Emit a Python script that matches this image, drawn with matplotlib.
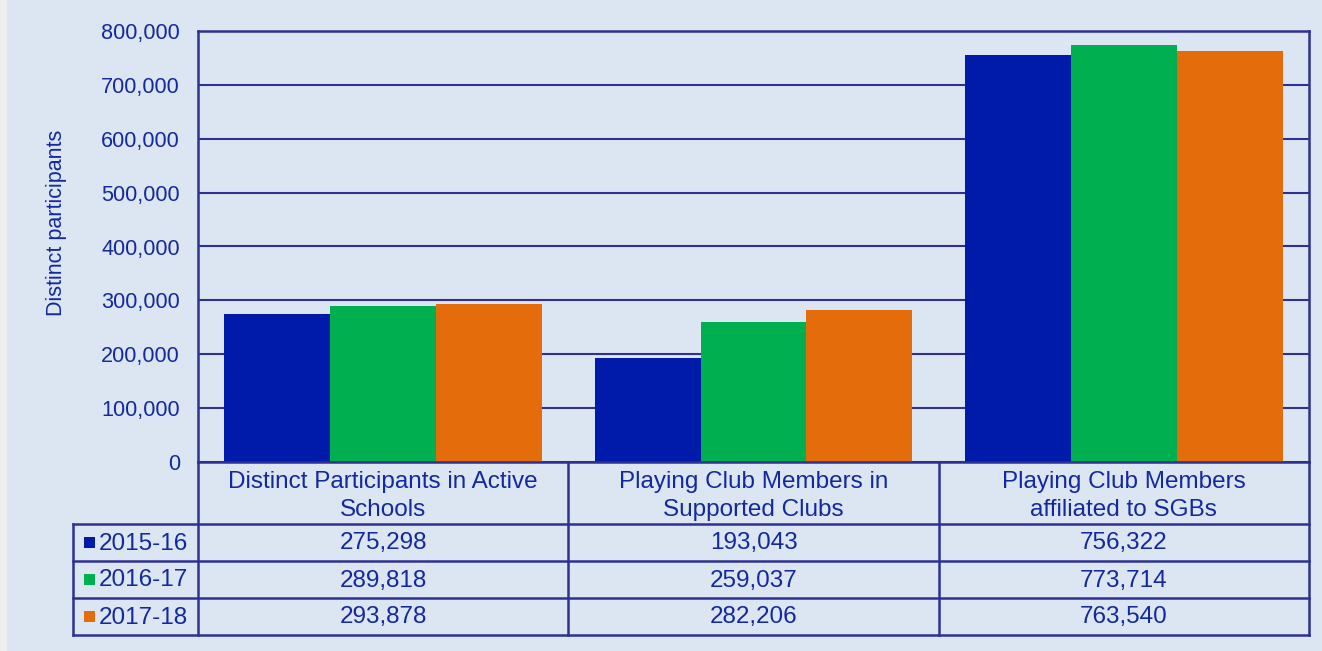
import matplotlib
matplotlib.use("Agg")
import matplotlib.pyplot as plt
import matplotlib.transforms as mtransforms
from matplotlib.patches import Rectangle
import numpy as np

plt.rcParams['font.family'] = ['Liberation Sans', 'DejaVu Sans']

categories = ["Distinct Participants in Active\nSchools",
              "Playing Club Members in\nSupported Clubs",
              "Playing Club Members\naffiliated to SGBs"]
seasons = ["2015-16", "2016-17", "2017-18"]
values = {
    "2015-16": [275298, 193043, 756322],
    "2016-17": [289818, 259037, 773714],
    "2017-18": [293878, 282206, 763540],
}
yticks = [0, 100000, 200000, 300000, 400000, 500000, 600000, 700000, 800000]

bar_colors = ["#001aaa", "#00b050", "#e46c0a"]
bg = "#dce6f2"
ink = "#1428a0"
rule = "#2e3192"

W, H = 1322, 651
fig = plt.figure(figsize=(W / 100, H / 100), dpi=100, facecolor=bg)
fig.patches.append(Rectangle((0, 0), 7 / W, 1, transform=fig.transFigure,
                             facecolor="#eeeeee", edgecolor="none", zorder=0))

# plot area in pixels
L, R, T, B = 198, 1309, 31, 462
ax = fig.add_axes([L / W, 1 - B / H, (R - L) / W, (B - T) / H])
ax.set_facecolor(bg)

x = np.arange(len(categories))
bw = 0.286
for j, s in enumerate(seasons):
    ax.bar(x + (j - 1) * bw, values[s], width=bw, color=bar_colors[j],
           zorder=3, linewidth=0)

ax.set_xlim(-0.5, len(categories) - 0.5)
ax.set_ylim(0, 800000)
ax.set_yticks(yticks)
ax.set_yticklabels([f"{v:,}" for v in yticks], fontsize=15.6, color=ink)
ax.tick_params(axis="y", length=0, pad=13)
ax.set_xticks([])
ax.yaxis.grid(True, color=rule, linewidth=1.5, zorder=1)
ax.set_axisbelow(True)
for side in ["left", "right", "top"]:
    ax.spines[side].set_color(rule)
    ax.spines[side].set_linewidth(1.8)
ax.spines["bottom"].set_visible(False)
ax.set_ylabel("Distinct participants", fontsize=15.5, color=ink)
ax.yaxis.set_label_coords((67 - L) / (R - L), (B - 223) / (B - T))

# data table under the axis, drawn in pixel space
ov = fig.add_axes([0, 0, 1, 1], facecolor="none")
ov.set_xlim(0, W)
ov.set_ylim(H, 0)
ov.axis("off")
mix = mtransforms.blended_transform_factory(ax.transData, ov.transData)

rows = [462, 524, 561, 598, 635]
lab_left = 73
lw = 1.8

# horizontal rules
ov.plot([L, R], [rows[0], rows[0]], color=rule, lw=lw)
for yy in rows[1:]:
    ov.plot([lab_left, R], [yy, yy], color=rule, lw=lw)
# vertical rules
ov.plot([lab_left, lab_left], [rows[1], rows[-1]], color=rule, lw=lw)
for k in range(len(categories) + 1):
    ov.plot([k - 0.5, k - 0.5], [rows[0], rows[-1]], color=rule, lw=lw,
            transform=mix)

for i, c in enumerate(categories):
    ov.text(i, (rows[0] + rows[1]) / 2 + 3, c, transform=mix, ha="center",
            va="center", fontsize=17.5, color=ink, linespacing=1.3)

for j, s in enumerate(seasons):
    yc = (rows[j + 1] + rows[j + 2]) / 2
    ov.add_patch(Rectangle((84, yc - 6), 11, 11, facecolor=bar_colors[j],
                           edgecolor="none"))
    ov.text(99, yc + 1, s, ha="left", va="center", fontsize=17.5, color=ink)
    for i in range(len(categories)):
        ov.text(i, yc + 1, f"{values[s][i]:,}", transform=mix, ha="center",
                va="center", fontsize=17.5, color=ink)

fig.savefig("out.png", dpi=100, facecolor=bg)
